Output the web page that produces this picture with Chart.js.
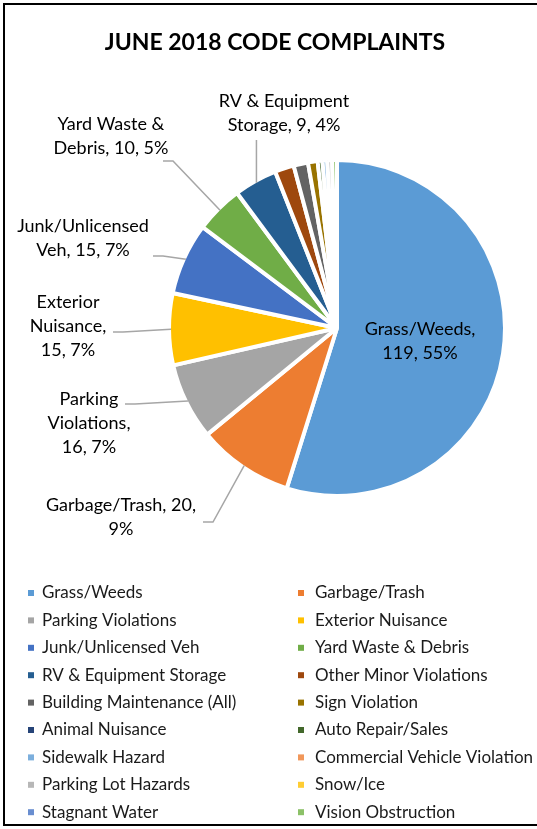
<!DOCTYPE html>
<html>
<head>
<meta charset="utf-8">
<script src="https://cdn.jsdelivr.net/npm/chart.js@4.4.0/dist/chart.umd.min.js"></script>
<style>
  html, body { margin: 0; padding: 0; background: #fff; }
</style>
</head>
<body>
<canvas id="myChart" width="537" height="829"></canvas>
<script>
const categories = ["Grass/Weeds", "Garbage/Trash", "Parking Violations", "Exterior Nuisance",
  "Junk/Unlicensed Veh", "Yard Waste & Debris", "RV & Equipment Storage", "Other Minor Violations",
  "Building Maintenance (All)", "Sign Violation", "Animal Nuisance", "Auto Repair/Sales",
  "Sidewalk Hazard", "Commercial Vehicle Violation", "Parking Lot Hazards", "Snow/Ice",
  "Stagnant Water", "Vision Obstruction"];
const complaints = [119, 20, 16, 15, 15, 10, 9, 4, 3, 2, 0, 1, 1, 0, 1, 0, 0, 1];
const colors = ["#5B9BD5", "#ED7D31", "#A5A5A5", "#FFC000", "#4472C4", "#70AD47", "#255E91", "#9E480E",
  "#636363", "#997300", "#264478", "#43682B", "#7CAFDD", "#F1975A", "#B7B7B7", "#FFCD33",
  "#698ED0", "#8CC168"];
const chartTitle = "JUNE 2018 CODE COMPLAINTS";

// where the data labels sit, as offsets from the pie centre (ax/ay = leader start)
const labelSpots = [
  {inside: 0.5, wrap: 125},
  {dx: -216, dy: 189, ax: -134, ay: 194, wrap: 170},
  {dx: -248, dy: 95, ax: -212, ay: 76, wrap: 100},
  {dx: -269, dy: -2, ax: -224, ay: 4, wrap: 90},
  {dx: -254, dy: -90, ax: -184, ay: -72, wrap: 140},
  {dx: -226, dy: -192, ax: -174, ay: -167, wrap: 130},
  {dx: -53, dy: -215, ay: -188, wrap: 145}
];

const fontName = "Lato, 'Open Sans', sans-serif";

function wrapText(ctx, text, maxW) {
  const words = text.split(' ');
  const lines = [];
  let cur = '';
  words.forEach(w => {
    const test = cur ? cur + ' ' + w : w;
    if (cur && ctx.measureText(test).width > maxW) {
      lines.push(cur);
      cur = w;
    } else {
      cur = test;
    }
  });
  if (cur) lines.push(cur);
  return lines;
}

const framePlugin = {
  id: 'frame',
  beforeDraw(chart) {
    const c = chart.ctx;
    c.save();
    c.fillStyle = '#fff';
    c.fillRect(0, 0, chart.width, chart.height);
    c.strokeStyle = '#000';
    c.lineWidth = 2;
    c.strokeRect(4, 4, 600, 821);
    c.fillStyle = '#000';
    c.font = "bold 23px " + fontName;
    c.textAlign = 'center';
    c.textBaseline = 'middle';
    c.fillText(chartTitle, 275, 43);
    c.restore();
  }
};

const sliceLabels = {
  id: 'sliceLabels',
  afterDatasetsDraw(chart) {
    const c = chart.ctx;
    const meta = chart.getDatasetMeta(0);
    const total = complaints.reduce((a, b) => a + b, 0);
    const lineH = 24;
    c.save();
    c.font = "18px " + fontName;
    c.textAlign = 'center';
    c.textBaseline = 'middle';
    labelSpots.forEach((spot, i) => {
      const p = meta.data[i].getProps(['x', 'y', 'startAngle', 'endAngle', 'outerRadius'], true);
      const mid = (p.startAngle + p.endAngle) / 2;
      const text = categories[i] + ', ' + complaints[i] + ', ' + Math.round(complaints[i] / total * 100) + '%';
      const lines = wrapText(c, text, spot.wrap);
      let cx, cy;
      if (spot.inside) {
        cx = p.x + Math.cos(mid) * p.outerRadius * spot.inside;
        cy = p.y + Math.sin(mid) * p.outerRadius * spot.inside;
      } else {
        cx = p.x + spot.dx;
        cy = p.y + spot.dy;
        const ex = p.x + Math.cos(mid) * (p.outerRadius - 2);
        const ey = p.y + Math.sin(mid) * (p.outerRadius - 2);
        c.strokeStyle = '#a6a6a6';
        c.lineWidth = 1.5;
        c.beginPath();
        if (spot.ax !== undefined) {
          c.moveTo(p.x + spot.ax, p.y + spot.ay);
          c.lineTo(p.x + spot.ax + 10, p.y + spot.ay);
        } else {
          c.moveTo(ex, p.y + spot.ay);
        }
        c.lineTo(ex, ey);
        c.stroke();
      }
      c.fillStyle = '#000';
      lines.forEach((ln, k) => {
        c.fillText(ln, cx, cy + (k - (lines.length - 1) / 2) * lineH);
      });
    });
    c.restore();
  }
};

const twoColumnLegend = {
  id: 'twoColumnLegend',
  afterDraw(chart) {
    const c = chart.ctx;
    c.save();
    c.font = "17px " + fontName;
    c.textAlign = 'left';
    c.textBaseline = 'middle';
    categories.forEach((name, i) => {
      const col = i % 2;
      const row = Math.floor(i / 2);
      const y = 593 + row * 27.4;
      const x = col === 0 ? 28 : 298;
      c.fillStyle = colors[i];
      c.fillRect(x, y - 3, 6, 6);
      c.fillStyle = '#1a1a1a';
      c.fillText(name, col === 0 ? 42 : 315, y);
    });
    c.restore();
  }
};

const myChart = document.getElementById('myChart').getContext('2d');

new Chart(myChart, {
  type: 'pie',
  data: {
    labels: categories,
    datasets: [{
      data: complaints,
      backgroundColor: colors,
      borderColor: '#fff',
      borderWidth: 4
    }]
  },
  options: {
    responsive: false,
    animation: false,
    radius: 168,
    layout: { padding: { left: 137, right: 0, top: 0, bottom: 173 } },
    plugins: {
      legend: { display: false },
      tooltip: { enabled: false },
      title: { display: false }
    }
  },
  plugins: [framePlugin, sliceLabels, twoColumnLegend]
});
</script>
</body>
</html>
